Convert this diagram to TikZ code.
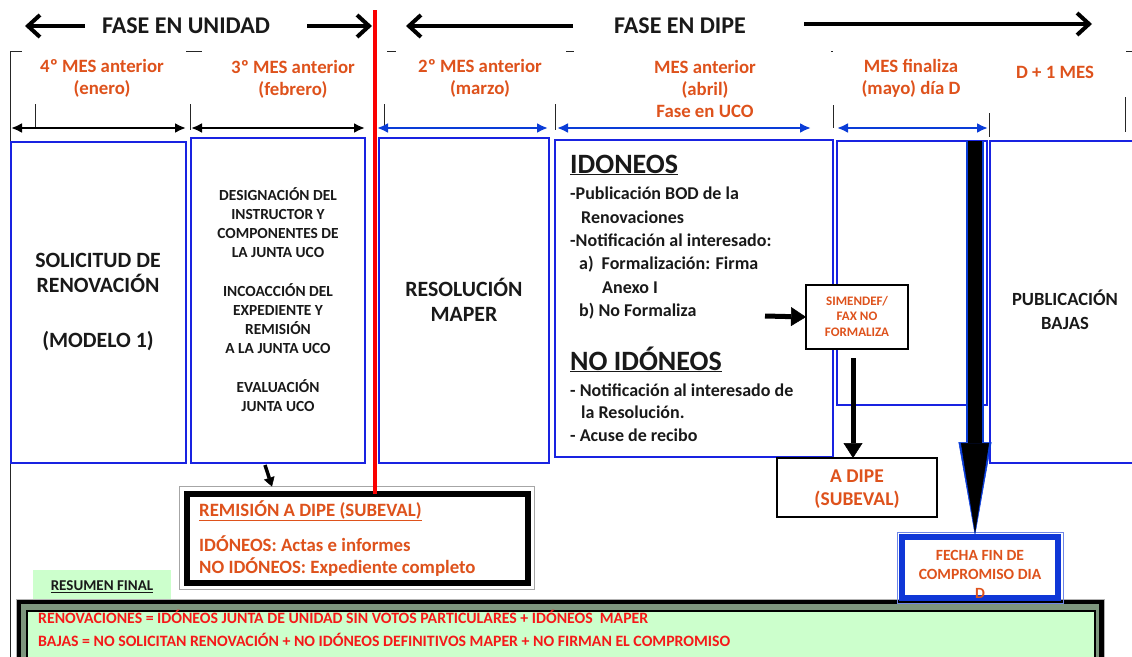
\documentclass[tikz,border=0pt]{standalone}
\usepackage{fontspec}
\setmainfont{Carlito}
\usetikzlibrary{arrows.meta}
\definecolor{boxblue}{RGB}{25,35,225}
\definecolor{arrblue}{RGB}{10,60,215}
\definecolor{orangetxt}{RGB}{222,82,28}
\definecolor{txtblack}{RGB}{25,25,25}
\definecolor{redln}{RGB}{250,0,0}
\definecolor{sumgreen}{RGB}{204,255,204}
\definecolor{bandgreen}{RGB}{125,150,125}
\definecolor{sumred}{RGB}{245,25,25}
\definecolor{fechablue}{RGB}{15,55,215}
\begin{document}
\begin{tikzpicture}[x=1pt,y=-1pt,
  bluebox/.style={draw=boxblue, line width=1.2pt, inner sep=0pt, outer sep=0pt},
  blackbox/.style={draw=black, line width=1.3pt, fill=white, inner sep=0pt, outer sep=0pt},
  hdrtxt/.style={font=\fontsize{24}{28}\selectfont\bfseries, text=txtblack, inner sep=0pt},
  hdrarrow/.style={line width=4pt, -{Straight Barb[length=12pt,width=22pt]}},
  monthtxt/.style={font=\fontsize{18.8}{22}\selectfont\bfseries, text=orangetxt, align=center, inner sep=0pt},
  blkspan/.style={line width=2.2pt, {Latex[length=11pt,width=10pt]}-{Latex[length=11pt,width=10pt]}},
  bluspan/.style={blkspan, draw=arrblue},
  tickline/.style={line width=0.9pt, draw=black!85},
  bigtxt/.style={font=\fontsize{21.8}{25}\selectfont\bfseries, text=txtblack, align=center, inner sep=0pt},
  medtxt/.style={font=\fontsize{15.4}{19}\selectfont\bfseries, text=txtblack, align=center, inner sep=0pt},
  pubtxt/.style={font=\fontsize{18.6}{24}\selectfont\bfseries, text=txtblack, align=center, inner sep=0pt},
  idotxt/.style={font=\fontsize{28}{30}\selectfont\bfseries, text=txtblack, anchor=base west, inner sep=0pt},
  bodytxt/.style={font=\fontsize{18}{22}\selectfont\bfseries, text=txtblack, anchor=base west, inner sep=0pt},
  simtxt/.style={font=\fontsize{13}{15.5}\selectfont\bfseries, text=orangetxt, align=center, inner sep=0pt},
  dipetxt/.style={font=\fontsize{19.5}{23}\selectfont\bfseries, text=orangetxt, align=center, inner sep=0pt},
  fechatxt/.style={font=\fontsize{15.6}{19}\selectfont\bfseries, text=orangetxt, align=center, inner sep=0pt},
  remtxt/.style={font=\fontsize{18.8}{22}\selectfont\bfseries, text=orangetxt, anchor=base west, inner sep=0pt},
  sumtxt/.style={font=\fontsize{15.8}{18}\selectfont\bfseries, text=sumred, anchor=base west, inner sep=0pt},
  fatarrow/.style={line width=5pt, -{Triangle[length=15pt,width=19pt,line width=0.5pt]}},
  smallarrow/.style={line width=3.5pt, -{Triangle[length=9pt,width=11pt,line width=0.5pt]}},
  redline/.style={draw=redln, line width=4pt}
]
\useasboundingbox (0,0) rectangle (1132,656);

% frame
\draw[tickline] (10,660) -- (10,51) -- (22,51);
\draw[tickline] (186,51) -- (202,51);
\draw[tickline] (387,51) -- (396,51);
\draw[tickline] (566,51) -- (574,51);
\draw[tickline] (831,51) -- (833,51);
\draw[tickline] (1126,51) -- (1132,51);

% header
\node[hdrtxt] (fu) at (186,26) {FASE EN UNIDAD};
\node[hdrtxt] (fd) at (680,26) {FASE EN DIPE};
\coordinate (a1s) at (85,26);  \coordinate (a1e) at (25,26);
\coordinate (a2s) at (307,26); \coordinate (a2e) at (372,26);
\coordinate (a3s) at (573,26); \coordinate (a3e) at (406,26);
\coordinate (a4s) at (804,24); \coordinate (a4e) at (1092,24);
\draw[hdrarrow] (a1s) -- (a1e);
\draw[hdrarrow] (a2s) -- (a2e);
\draw[hdrarrow] (a3s) -- (a3e);
\draw[hdrarrow] (a4s) -- (a4e);

% month labels
\node[monthtxt] (m1) at (102,78) {4º MES anterior\\(enero)};
\node[monthtxt] (m2) at (293,79) {3º MES anterior\\(febrero)};
\node[monthtxt] (m3) at (480,78) {2º MES anterior\\(marzo)};
\node[monthtxt] (m4) at (705,89) {MES anterior\\(abril)\\Fase en UCO};
\node[monthtxt] (m5) at (911,78) {MES finaliza\\(mayo) día D};
\node[monthtxt] (m6) at (1055,72) {D + 1 MES};

% ticks
\draw[tickline] (35,104) -- (35,128);
\draw[tickline] (190,104) -- (190,130);
\draw[tickline] (384,104) -- (384,128);
\draw[tickline] (555,104) -- (555,130);
\draw[tickline] (833,105) -- (833,128);
\draw[tickline] (989,113) -- (989,137);
\draw[tickline] (1125,97) -- (1125,132);

% span arrows
\coordinate (s1a) at (11,128);  \coordinate (s1b) at (186,128);
\coordinate (s2a) at (191,128); \coordinate (s2b) at (365,128);
\coordinate (s3a) at (377,128); \coordinate (s3b) at (548,128);
\coordinate (s4a) at (557,128); \coordinate (s4b) at (811,128);
\coordinate (s5a) at (837,128); \coordinate (s5b) at (988,128);
\draw[blkspan] (s1a) -- (s1b);
\draw[blkspan] (s2a) -- (s2b);
\draw[bluspan] (s3a) -- (s3b);
\draw[bluspan] (s4a) -- (s4b);
\draw[bluspan] (s5a) -- (s5b);

% main boxes
\node[bluebox, minimum width=175pt, minimum height=321pt] (b1) at (98.5,302.5) {};
\node[bluebox, minimum width=174pt, minimum height=325pt] (b2) at (278,300.5) {};
\node[bluebox, minimum width=170pt, minimum height=325pt] (b3) at (464,300.5) {};
\node[bluebox, minimum width=278pt, minimum height=317pt] (b4) at (694,298.5) {};
\node[bluebox, minimum width=150pt, minimum height=264pt] (b5) at (912,273) {};
\node[bluebox, minimum width=155pt, minimum height=322pt] (b6) at (1067.5,302) {};

\node[bigtxt] (t1) at (98,302) {SOLICITUD DE\\RENOVACIÓN\\[30pt](MODELO 1)};
\node[medtxt] (t2) at (278,300) {DESIGNACIÓN DEL\\INSTRUCTOR Y\\COMPONENTES DE\\LA JUNTA UCO\\[20pt]INCOACCIÓN DEL\\EXPEDIENTE Y\\REMISIÓN\\A LA JUNTA UCO\\[20pt]EVALUACIÓN\\JUNTA UCO};
\node[bigtxt] (t3) at (464,300) {RESOLUCIÓN\\MAPER};
\node[pubtxt] (t6) at (1065,310) {PUBLICACIÓN\\BAJAS};

% box 4 text
\node[idotxt] (i0) at (570,173) {\underline{IDONEOS}};
\node[bodytxt] (i1) at (570,199) {-Publicación BOD de la};
\node[bodytxt] (i2) at (581,223) {Renovaciones};
\node[bodytxt] (i3) at (570,246) {-Notificación al interesado:};
\node[bodytxt] (i4) at (579,269) {a)\hspace{8pt}Formalización: Firma};
\node[bodytxt] (i5) at (602,293) {Anexo I};
\node[bodytxt] (i6) at (579,316) {b) No Formaliza};
\node[idotxt] (n0) at (570,370) {\underline{NO IDÓNEOS}};
\node[bodytxt] (n1) at (570,396) {- Notificación al interesado de};
\node[bodytxt] (n2) at (581,418) {la Resolución.};
\node[bodytxt] (n3) at (570,441) {- Acuse de recibo};

% SIMENDEF and A DIPE
\node[blackbox, minimum width=102pt, minimum height=64pt] (sim) at (857,317) {};
\node[simtxt] (simt) at (857,316) {SIMENDEF/\\FAX NO\\FORMALIZA};
\node[blackbox, minimum width=160pt, minimum height=59pt] (adipe) at (857,487.5) {};
\node[dipetxt] (adipet) at (857,489) {A DIPE\\(SUBEVAL)};
\coordinate (simin) at (765,316);
\draw[fatarrow] (simin) -- (sim.west);
\draw[fatarrow] ([xshift=-4pt,yshift=-9pt]sim.south) -- ([xshift=-4pt]adipe.north);

% REMISION box
\node[draw=gray!70, line width=1.2pt, fill=white, minimum width=355pt, minimum height=103pt, inner sep=0pt, outer sep=0pt] (remo) at (357,538) {};
\node[draw=black, line width=6pt, fill=white, minimum width=341pt, minimum height=89pt, inner sep=0pt, outer sep=0pt] (rem) at (357,538) {};
\node[remtxt] (r1) at (199,516) {\underline{REMISIÓN A DIPE (SUBEVAL)}};
\node[remtxt] (r2) at (199,551) {IDÓNEOS: Actas e informes};
\node[remtxt] (r3) at (199,573) {NO IDÓNEOS: Expediente completo};
\draw[smallarrow] ([xshift=-13pt,yshift=-2pt]b2.south) -- ([xshift=-85pt]remo.north);

% red line
\coordinate (rtop) at (375,10);
\draw[redline] (rtop) -- (rem.north -| rtop);

% summary
\node[fill=sumgreen, minimum width=138pt, minimum height=29pt, inner sep=0pt] (resf) at (102,584) {};
\node[font=\fontsize{15}{17}\selectfont\bfseries, text=txtblack, inner sep=0pt] (resft) at (102,587) {\underline{RESUMEN FINAL}};
\node[draw=gray!60, line width=1.2pt, fill=black, minimum width=1088pt, minimum height=70pt, anchor=north west, inner sep=0pt] (sumo) at (16,599) {};
\node[fill=bandgreen, minimum width=1078pt, minimum height=70pt, anchor=north west, inner sep=0pt] (sumb) at (21,604) {};
\node[draw=black, line width=1.5pt, fill=sumgreen, minimum width=1068pt, minimum height=60pt, anchor=north west, inner sep=0pt] (sumi) at (26,610) {};
\node[sumtxt] (l1) at (38,623.5) {RENOVACIONES = IDÓNEOS JUNTA DE UNIDAD SIN VOTOS PARTICULARES + IDÓNEOS\ \ MAPER};
\node[sumtxt] (l2) at (38,646.5) {BAJAS = NO SOLICITAN RENOVACIÓN + NO IDÓNEOS DEFINITIVOS MAPER + NO FIRMAN EL COMPROMISO};

% FECHA box
\node[draw=fechablue!60, line width=1pt, minimum width=166pt, minimum height=71pt, inner sep=0pt, outer sep=0pt] (fechao) at (980,567.5) {};
\node[draw=fechablue, line width=6pt, fill=white, minimum width=156pt, minimum height=61pt, inner sep=0pt, outer sep=0pt] (fecha) at (980,567.5) {};
\node[fechatxt] (fechat) at (980,574) {FECHA FIN DE\\COMPROMISO DIA\\D};

% big arrow
\coordinate (bigtop) at (975,141);
\draw[line width=18pt, draw=arrblue, -{Triangle[length=94pt,width=33pt,line width=0.5pt]}] (bigtop) -- ([yshift=-4pt]fechao.north -| bigtop);
\draw[line width=14pt, draw=black, -{Triangle[length=90pt,width=28pt,line width=0.5pt]}] (bigtop) -- ([yshift=-1pt]fechao.north -| bigtop);
\end{tikzpicture}
\end{document}
